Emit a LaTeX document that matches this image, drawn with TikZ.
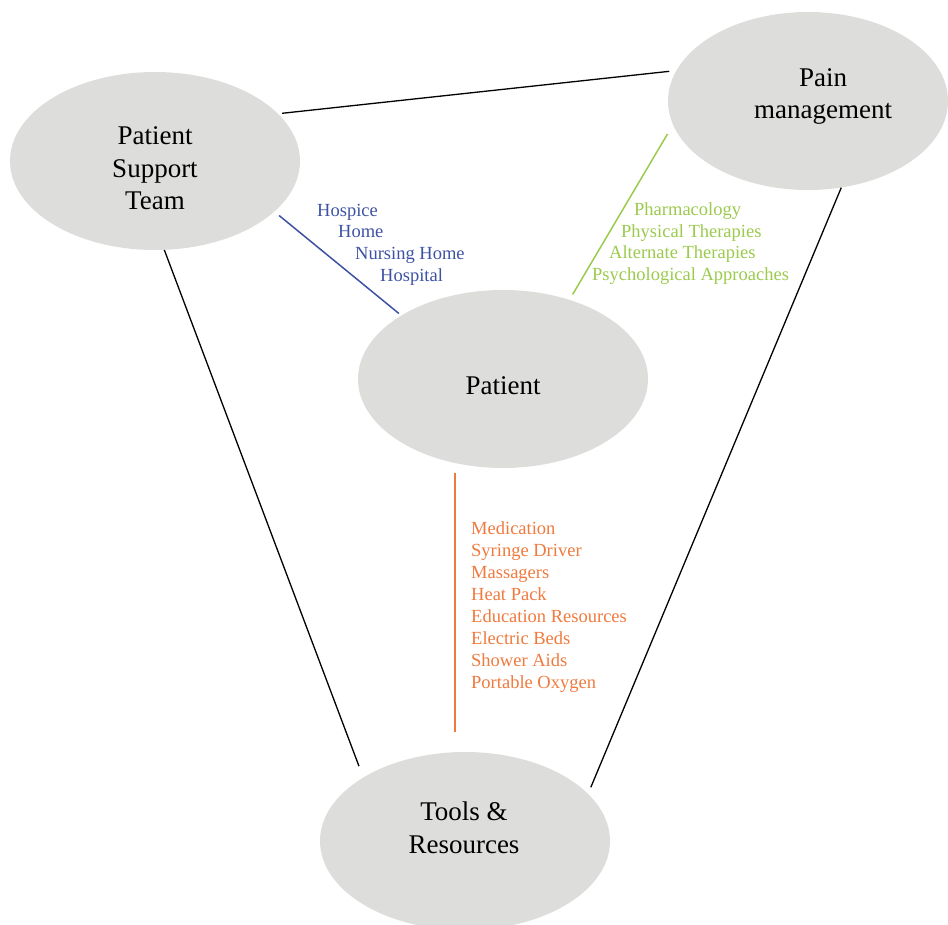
\documentclass[tikz,border=0pt]{standalone}
\usepackage{fontspec}
\setmainfont{Liberation Serif}
\usetikzlibrary{shapes.geometric,calc}

\definecolor{bubblegray}{RGB}{221,221,219}
\definecolor{careblue}{RGB}{62,82,164}
\definecolor{caregreen}{RGB}{155,202,77}
\definecolor{careorange}{RGB}{240,122,62}

\begin{document}
\begin{tikzpicture}[x=1pt,y=-1pt,
  bubble/.style={ellipse, fill=bubblegray, draw=none,
    minimum width=290pt, minimum height=178pt, inner sep=0pt},
  title/.style={font=\fontsize{27}{32.5}\selectfont, align=center,
    anchor=base, inner sep=0pt},
  item/.style={font=\fontsize{18.5}{22}\selectfont, anchor=base west,
    inner sep=0pt},
  link/.style={line width=1.3pt, black},
  blueline/.style={line width=1.5pt, careblue},
  greenline/.style={line width=1.5pt, caregreen},
  orangeline/.style={line width=1.6pt, careorange}]

\useasboundingbox (0,0) rectangle (948,925);

% the four circles of care
\node[bubble] (pst)   at (155,161) {};
\node[bubble, minimum width=280pt] (pain) at (808,101) {};
\node[bubble] (pat)   at (503,379) {};
\node[bubble] (tools) at (465,841) {};

% titles, placed by the baseline of their last line
\node[title] (pstT)   at (155,210) {Patient\\Support\\Team};
\node[title] (painT)  at (823,119) {Pain\\management};
\node[title] (patT)   at (503,394) {Patient};
\node[title] (toolsT) at (464,853) {Tools \&\\Resources};

% outer triangle
\draw[link, shorten <=4pt, shorten >=7pt] (pst.21.6) -- (pain.167.9);
\draw[link, shorten >=12pt] (pst.-84.2) -- (tools.148.6);
\draw[link, shorten >=7pt] (pain.-69) -- (tools.21.3);

% spokes into the patient
\draw[blueline, shorten <=6pt, shorten >=3pt] (pst.-23) -- (pat.148.9);
\draw[greenline, shorten <=10.6pt, shorten >=6.2pt] (pain.190.5) -- (pat.50.9);
\draw[orangeline] ($(pat.south)+(-48,5)$) -- ($(tools.north)+(-10,-20)$);

% places of care
\begin{scope}[every node/.append style={text=careblue}]
\node[item] (b1) at (317,217) {Hospice};
\node[item] (b2) at (338,238) {Home};
\node[item] (b3) at (355,260) {Nursing Home};
\node[item] (b4) at (380,282) {Hospital};
\end{scope}

% approaches to pain
\begin{scope}[every node/.append style={text=caregreen}]
\node[item] (g1) at (634,216) {Pharmacology};
\node[item] (g2) at (621,238) {Physical Therapies};
\node[item] (g3) at (609,259) {Alternate Therapies};
\node[item] (g4) at (592,281) {Psychological Approaches};
\end{scope}

% tools and resources
\begin{scope}[every node/.append style={text=careorange}]
\node[item] (o1) at (471,534) {Medication};
\node[item] (o2) at (471,556) {Syringe Driver};
\node[item] (o3) at (471,578) {Massagers};
\node[item] (o4) at (471,600) {Heat Pack};
\node[item] (o5) at (471,622) {Education Resources};
\node[item] (o6) at (471,644) {Electric Beds};
\node[item] (o7) at (471,666) {Shower Aids};
\node[item] (o8) at (471,688) {Portable Oxygen};
\end{scope}

\end{tikzpicture}
\end{document}
